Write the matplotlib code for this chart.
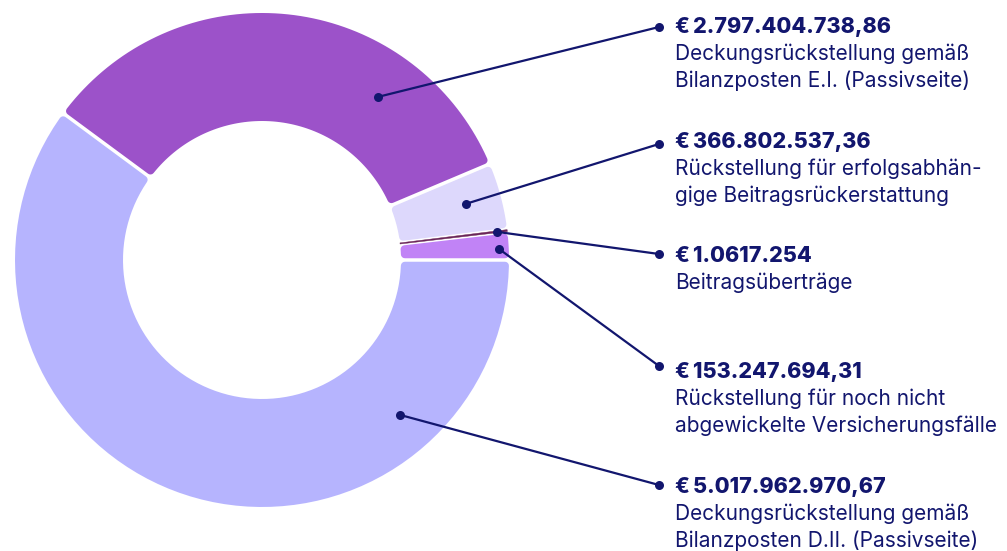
import numpy as np
import matplotlib
matplotlib.use("Agg")
import matplotlib.pyplot as plt
from matplotlib.patches import Polygon

# ---- data ----
categories = [
    "Deckungsrückstellung gemäß\nBilanzposten D.II. (Passivseite)",
    "Deckungsrückstellung gemäß\nBilanzposten E.I. (Passivseite)",
    "Rückstellung für erfolgsabhän-\ngige Beitragsrückerstattung",
    "Beitragsüberträge",
    "Rückstellung für noch nicht\nabgewickelte Versicherungsfälle",
]
values = [5017962970.67, 2797404738.86, 366802537.36, 10617254.0, 153247694.31]
value_labels = [
    "€\u20095.017.962.970,67",
    "€\u20092.797.404.738,86",
    "€\u2009366.802.537,36",
    "€\u20091.0617.254",
    "€\u2009153.247.694,31",
]
colors = ["#b6b4fe", "#9c52c9", "#ddd8fc", "#6a2458", "#c183f6"]

# ---- layout (pixels of the 1007x551 canvas) ----
W, H = 1007, 551
CX, CY, R = 262, 260, 247
RIN = 139 / R
# anchor on slice: (angle deg, radius fraction)
anchors = [(-48.3, 0.84), (54.6, 0.81), (15.4, 0.856), (6.8, 0.96), (2.7, 0.96)]
label_dot_y = [485, 27, 144, 254, 366]
label_title_y = [487, 27, 142, 256, 372]
DOT_X, TEXT_X = 659, 675
NAVY = "#12166e"

fig = plt.figure(figsize=(W / 100, H / 100), dpi=100)
ax = fig.add_axes([(CX - R) / W, (H - CY - R) / H, 2 * R / W, 2 * R / H])

wedges, _ = ax.pie(values, colors=colors, radius=1, startangle=0,
                   counterclock=False, wedgeprops=dict(width=1 - RIN))
ax.set_xlim(-1, 1)
ax.set_ylim(-1, 1)
ax.axis("off")

px = 1.0 / R  # one pixel in data units
gap = 3.5 * px
corner = 4.0 * px


def arc(r, a0, a1, n=80):
    t = np.linspace(a0, a1, n)
    return np.column_stack([r * np.cos(t), r * np.sin(t)])


for w in wedges:
    t1, t2 = np.radians(w.theta1), np.radians(w.theta2)
    col = w.get_facecolor()
    w.set_visible(False)
    span_px = (t2 - t1) * R
    if span_px < 6:
        ro, ri, d, c = 1.0, RIN, 0.0, 0.0
        lw = 0.3
    else:
        c = corner
        ro, ri, d = 1.0 - c, RIN + c, gap / 2 + c
        lw = 2 * c * R * 0.72
    po = np.arcsin(d / ro)
    pi_ = np.arcsin(d / ri)
    outer = arc(ro, t1 + po, t2 - po)
    inner = arc(ri, t2 - pi_, t1 + pi_)
    poly = Polygon(np.vstack([outer, inner]), closed=True, facecolor=col,
                   edgecolor=col, linewidth=lw, joinstyle="round")
    ax.add_patch(poly)


def to_data(x, y):
    return (x - CX) / R, (CY - y) / R


family = ["Inter", "DejaVu Sans"]
for i in range(len(values)):
    ang, rf = anchors[i]
    ax_, ay_ = rf * np.cos(np.radians(ang)), rf * np.sin(np.radians(ang))
    lx, ly = to_data(DOT_X, label_dot_y[i])
    ax.plot([ax_, lx], [ay_, ly], color=NAVY, lw=1.6, clip_on=False,
            solid_capstyle="round", zorder=5)
    ax.plot([ax_, lx], [ay_, ly], "o", color=NAVY, ms=6.5, clip_on=False,
            zorder=6, markeredgewidth=0)
    tx, ty = to_data(TEXT_X, label_title_y[i])
    ax.text(tx, ty, value_labels[i], ha="left", va="center", fontsize=15.5,
            fontweight="heavy", color=NAVY, family=family, clip_on=False)
    for j, line in enumerate(categories[i].split("\n")):
        tx2, ty2 = to_data(TEXT_X, label_title_y[i] + 27 * (j + 1))
        ax.text(tx2, ty2, line, ha="left", va="center", fontsize=15,
                color=NAVY, family=family, clip_on=False)

fig.savefig("out.png", dpi=100, facecolor="white")
